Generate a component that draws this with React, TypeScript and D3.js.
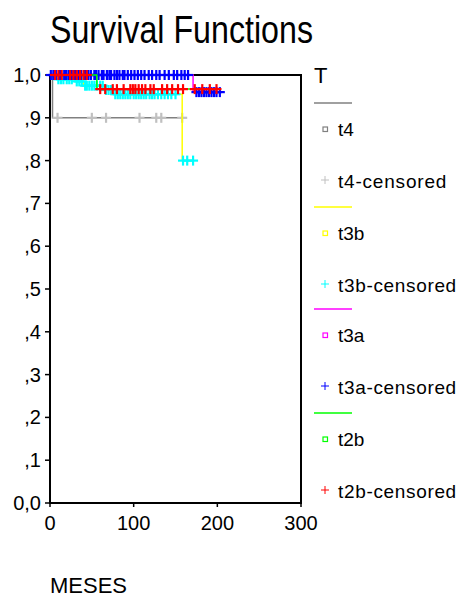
import React from "react";
import * as d3 from "d3";

const W = 461;
const H = 599;

const yTickValues = [0, 0.1, 0.2, 0.3, 0.4, 0.5, 0.6, 0.7, 0.8, 0.9, 1.0];
const yTickLabels = ["0,0", ",1", ",2", ",3", ",4", ",5", ",6", ",7", ",8", ",9", "1,0"];
const xTickValues = [0, 100, 200, 300];

// t4
const t4Times = [0, 3, 158];
const t4Surv = [1.0, 0.9, 0.9];
const t4Censored = [9, 50, 67, 107, 127, 133, 158];

// t3b
const t3bTimes = [0, 8, 30, 40, 65, 75, 158, 171];
const t3bSurv = [1.0, 0.99, 0.985, 0.975, 0.965, 0.955, 0.8, 0.8];
const t3bCensored = [10, 13, 16, 20, 23, 26, 32, 35, 38, 42, 44, 47, 50, 53, 56, 60, 63, 67, 70, 73, 78, 81, 84, 87, 90, 93, 96, 100, 103, 106, 109, 112, 115, 119, 122, 125, 129, 133, 137, 141, 145, 150, 159, 164, 171];

// t3a
const t3aTimes = [0, 171, 203];
const t3aSurv = [1.0, 0.96, 0.96];
const t3aCensored = [1, 4, 7, 11, 13, 17, 19, 22, 26, 29, 31, 34, 37, 41, 43, 46, 49, 53, 55, 58, 62, 64, 68, 71, 73, 77, 80, 83, 87, 89, 93, 97, 101, 105, 109, 113, 118, 122, 127, 131, 137, 142, 148, 152, 157, 161, 165, 175, 178, 181, 184, 187, 190, 193, 196, 199, 203];

// t2b
const t2bTimes = [0, 56, 199];
const t2bSurv = [1.0, 0.967, 0.967];
const t2bCensored = [6, 10, 14, 24, 28, 32, 36, 40, 44, 60, 66, 75, 80, 88, 96, 99, 102, 106, 110, 114, 120, 124, 134, 140, 146, 153, 159, 173, 182, 191, 199];

const groupNames = ["t4", "t3b", "t3a", "t2b"];
const lineColors = ["#808080", "#ffff00", "#ff00ff", "#00ff00"];
const censorColors = ["#c0c0c0", "#00ffff", "#0000ff", "#ff0000"];

const groups = [
  { times: t4Times, surv: t4Surv, cens: t4Censored },
  { times: t3bTimes, surv: t3bSurv, cens: t3bCensored },
  { times: t3aTimes, surv: t3aSurv, cens: t3aCensored },
  { times: t2bTimes, surv: t2bSurv, cens: t2bCensored },
];

const FONT = "'Liberation Sans', Arial, sans-serif";

function stepValue(times: number[], surv: number[], t: number) {
  let v = surv[0];
  for (let i = 0; i < times.length; i++) {
    if (times[i] <= t) v = surv[i];
  }
  return v;
}

export default function App() {
  const x = d3.scaleLinear().domain([0, 300]).range([50, 301]);
  const y = d3.scaleLinear().domain([0, 1]).range([503, 75]);
  const line = d3
    .line<[number, number]>()
    .x((d) => x(d[0]))
    .y((d) => y(d[1]))
    .curve(d3.curveStepAfter);

  const legendTop = [103, 207, 309, 413];

  return (
    <svg
      width={W}
      height={H}
      style={{ position: "fixed", left: 0, top: 0, background: "#fff" }}
      fontFamily={FONT}
    >
      <rect x={0} y={0} width={W} height={H} fill="#fff" />
      <text x={50} y={43} fontSize={38} textLength={263} lengthAdjust="spacingAndGlyphs" fill="#000">
        Survival Functions
      </text>

      {/* frame */}
      <rect x={x(0)} y={y(1)} width={x(300) - x(0)} height={y(0) - y(1)} fill="none" stroke="#000" strokeWidth={2} />

      {/* y ticks */}
      {yTickValues.map((v, i) => (
        <g key={"y" + i}>
          <line x1={x(0) - 5} x2={x(0)} y1={y(v)} y2={y(v)} stroke="#000" strokeWidth={1.5} />
          <text x={41} y={y(v) + 7} fontSize={20} textAnchor="end" fill="#000">
            {yTickLabels[i]}
          </text>
        </g>
      ))}
      {/* x ticks */}
      {xTickValues.map((v) => (
        <g key={"x" + v}>
          <line x1={x(v)} x2={x(v)} y1={y(0)} y2={y(0) + 4} stroke="#000" strokeWidth={1.5} />
          <text x={x(v)} y={530} fontSize={20} textAnchor="middle" fill="#000">
            {v}
          </text>
        </g>
      ))}
      <text x={50} y={593} fontSize={22} fill="#000">
        MESES
      </text>

      {/* curves */}
      {groups.map((g, gi) => {
        const pts: [number, number][] = g.times.map((t, i) => [t, g.surv[i]]);
        return (
          <g key={"g" + gi}>
            <path d={line(pts) || ""} fill="none" stroke={lineColors[gi]} strokeWidth={1.5} />
            {g.cens.map((t, ci) => {
              const cx = x(t);
              const cy = y(stepValue(g.times, g.surv, t));
              return (
                <g key={ci} stroke={censorColors[gi]} strokeWidth={2.2}>
                  <line x1={cx - 5} x2={cx + 5} y1={cy} y2={cy} />
                  <line x1={cx} x2={cx} y1={cy - 5} y2={cy + 5} />
                </g>
              );
            })}
          </g>
        );
      })}

      {/* legend */}
      <text x={314} y={83} fontSize={22} fill="#000">
        T
      </text>
      {groupNames.map((name, gi) => {
        const y0 = legendTop[gi];
        return (
          <g key={"l" + name}>
            <line x1={314} x2={352} y1={y0} y2={y0} stroke={lineColors[gi]} strokeWidth={1.5} />
            <rect x={323} y={y0 + 24} width={4.5} height={4.5} fill="none" stroke={lineColors[gi]} strokeWidth={1.2} />
            <text x={338} y={y0 + 33} fontSize={19} fill="#000">
              {name}
            </text>
            <g stroke={censorColors[gi]} strokeWidth={1}>
              <line x1={321} x2={329} y1={y0 + 77} y2={y0 + 77} />
              <line x1={325} x2={325} y1={y0 + 73} y2={y0 + 81} />
            </g>
            <text x={338} y={y0 + 85} fontSize={19} fill="#000" textLength={(name + "-censored").length * 9.85} lengthAdjust="spacing">
              {name + "-censored"}
            </text>
          </g>
        );
      })}
    </svg>
  );
}
